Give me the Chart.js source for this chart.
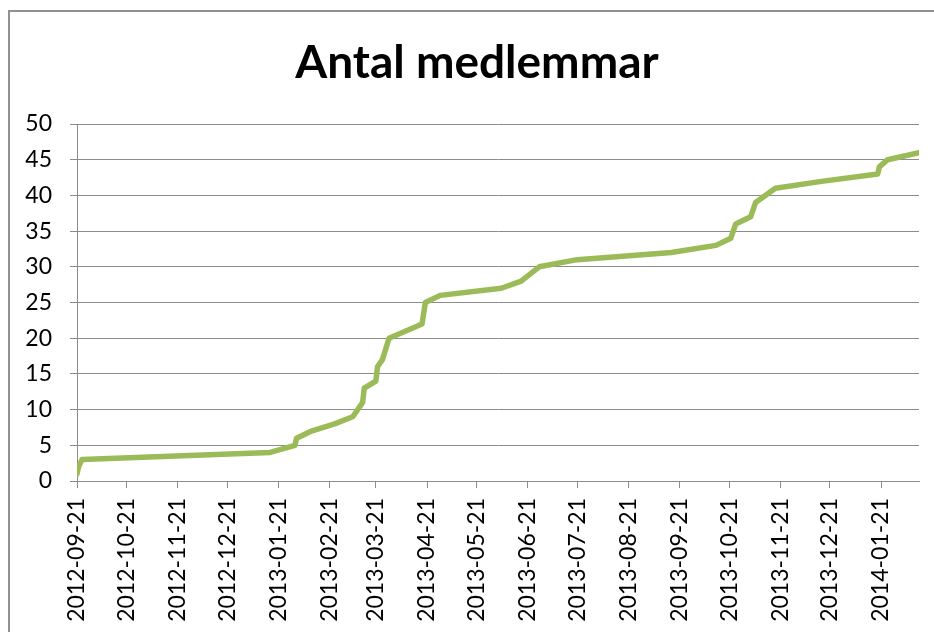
<!DOCTYPE html>
<html>
<head>
<meta charset="utf-8">
<script src="https://cdn.jsdelivr.net/npm/chart.js@4.4.1/dist/chart.umd.min.js"></script>
<style>
  html, body { margin: 0; padding: 0; background: #fff; }
  #wrap { width: 934px; height: 632px; position: relative; }
</style>
</head>
<body>
<div id="wrap"><canvas id="chart"></canvas></div>
<script>
// datum för varje ny medlem
const dates = [
  "2012-09-21", "2012-09-22", "2012-09-24", "2013-01-16", "2013-01-31",
  "2013-02-01", "2013-02-10", "2013-02-24", "2013-03-07", "2013-03-10",
  "2013-03-13", "2013-03-14", "2013-03-21", "2013-03-22", "2013-03-25",
  "2013-03-29", "2013-04-18", "2013-04-20", "2013-04-29", "2013-06-05",
  "2013-06-17", "2013-06-28", "2013-07-21", "2013-09-16", "2013-10-13",
  "2013-10-22", "2013-10-25", "2013-11-03", "2013-11-06", "2013-11-18",
  "2013-12-17", "2014-01-19", "2014-01-20", "2014-01-25", "2014-02-13",
];
const members = [
  1, 2, 3, 4, 5,
  6, 7, 8, 9, 10,
  11, 13, 14, 16, 17,
  20, 22, 25, 26, 27,
  28, 30, 31, 32, 33,
  34, 36, 37, 39, 41,
  42, 43, 44, 45, 46,
];
const tickDates = [
  "2012-09-21", "2012-10-21", "2012-11-21", "2012-12-21", "2013-01-21",
  "2013-02-21", "2013-03-21", "2013-04-21", "2013-05-21", "2013-06-21",
  "2013-07-21", "2013-08-21", "2013-09-21", "2013-10-21", "2013-11-21",
  "2013-12-21", "2014-01-21",
];
const yTicks = [0, 5, 10, 15, 20, 25, 30, 35, 40, 45, 50];

// no date adapter, so days since first date on a linear axis
const toDay = (s) => {
  const [y, m, d] = s.split("-").map(Number);
  return Math.round((Date.UTC(y, m - 1, d) - Date.UTC(2012, 8, 21)) / 86400000);
};
const points = dates.map((d, i) => ({ x: toDay(d), y: members[i] }));
const tickDays = tickDates.map(toDay);
const labelFor = {};
tickDates.forEach((d) => { labelFor[toDay(d)] = d; });

const GRID = "#8c8c8c";
const FONT = "Lato, 'Open Sans', sans-serif";

// Excel-style frame around the chart, title nudged to the frame's centre
const framePlugin = {
  id: "frame",
  afterLayout(chart) {
    if (chart.titleBlock) {
      chart.titleBlock.left += 10;
      chart.titleBlock.right += 10;
    }
  },
  beforeDraw(chart) {
    const ctx = chart.ctx;
    ctx.save();
    ctx.strokeStyle = "#909090";
    ctx.lineWidth = 2;
    ctx.beginPath();
    ctx.moveTo(9, 640);
    ctx.lineTo(9, 11);
    ctx.lineTo(940, 11);
    ctx.stroke();
    ctx.restore();
  },
};

new Chart(document.getElementById("chart"), {
  type: "line",
  data: {
    datasets: [
      {
        data: points,
        borderColor: "#9bbb59",
        borderWidth: 5.5,
        pointRadius: 0,
        tension: 0,
        borderJoinStyle: "round",
        borderCapStyle: "round",
        fill: false,
      },
    ],
  },
  options: {
    responsive: true,
    maintainAspectRatio: false,
    animation: false,
    layout: { padding: { left: 15, right: 15, top: 0, bottom: 0 } },
    plugins: {
      legend: { display: false },
      tooltip: { enabled: false },
      title: {
        display: true,
        text: "Antal medlemmar",
        color: "#000",
        font: { family: FONT, size: 46, weight: "bold", lineHeight: 1.2 },
        padding: { top: 36, bottom: 32.8 },
      },
    },
    scales: {
      x: {
        type: "linear",
        min: 0,
        max: points[points.length - 1].x,
        afterBuildTicks: (scale) => {
          scale.ticks = tickDays.map((v) => ({ value: v }));
        },
        afterFit: (scale) => {
          scale.height = 151;
          scale.paddingLeft = 0;
          scale.paddingRight = 0;
        },
        grid: {
          drawOnChartArea: false,
          drawTicks: true,
          tickLength: 7,
          color: GRID,
        },
        border: { color: GRID, width: 1 },
        ticks: {
          autoSkip: false,
          minRotation: 90,
          maxRotation: 90,
          padding: 10,
          color: "#000",
          font: { family: FONT, size: 23 },
          callback: (v) => labelFor[v] || "",
        },
      },
      y: {
        min: 0,
        max: 50,
        afterBuildTicks: (scale) => {
          scale.ticks = yTicks.map((v) => ({ value: v }));
        },
        afterFit: (scale) => {
          scale.width = 62;
        },
        grid: {
          color: GRID,
          tickLength: 7,
        },
        border: { color: GRID, width: 1 },
        ticks: {
          padding: 18,
          color: "#000",
          font: { family: FONT, size: 23 },
        },
      },
    },
  },
  plugins: [framePlugin],
});
</script>
</body>
</html>
